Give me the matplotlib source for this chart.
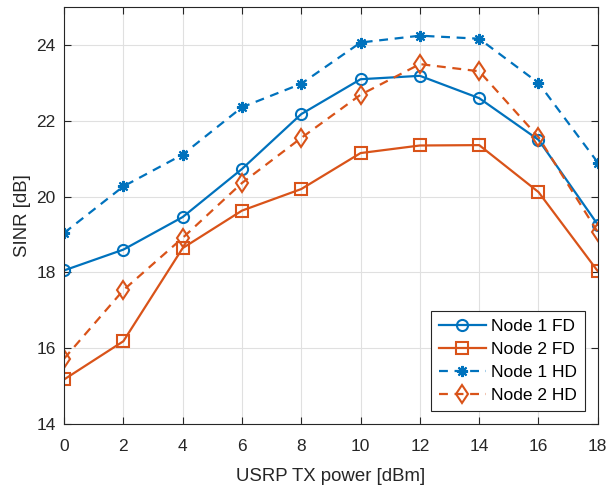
import matplotlib
matplotlib.use("Agg")
import matplotlib.pyplot as plt

plt.rcParams['font.family'] = ['Liberation Sans', 'DejaVu Sans']

tx_power = [0, 2, 4, 6, 8, 10, 12, 14, 16, 18]
node1_fd = [18.05, 18.60, 19.46, 20.73, 22.18, 23.10, 23.19, 22.60, 21.50, 19.26]
node2_fd = [15.17, 16.18, 18.64, 19.63, 20.20, 21.15, 21.35, 21.36, 20.12, 18.03]
node1_hd = [19.04, 20.27, 21.11, 22.36, 22.98, 24.07, 24.25, 24.17, 23.00, 20.90]
node2_hd = [15.72, 17.53, 18.91, 20.36, 21.55, 22.69, 23.50, 23.31, 21.57, 19.06]

blue = '#0072BD'
orange = '#D95319'

fig = plt.figure(figsize=(6.1, 4.86), dpi=100)
ax = fig.add_axes([0.105, 0.128, 0.875, 0.857])

ax.plot(tx_power, node1_fd, '-', color=blue, marker='o', mfc='none',
        markersize=8, mew=1.5, lw=1.6, label='Node 1 FD')
ax.plot(tx_power, node2_fd, '-', color=orange, marker='s', mfc='none',
        markersize=8, mew=1.5, lw=1.6, label='Node 2 FD')
ax.plot(tx_power, node1_hd, '--', color=blue, marker=(8, 2, 0),
        markersize=8, mew=1.5, lw=1.6, dashes=(4, 3), label='Node 1 HD')
ax.plot(tx_power, node2_hd, '--', color=orange, marker='d', mfc='none',
        markersize=9.5, mew=1.5, lw=1.6, dashes=(4, 3), label='Node 2 HD')

ax.set_xlim(0, 18)
ax.set_ylim(14, 25)
ax.set_xticks(range(0, 19, 2))
ax.set_yticks(range(14, 25, 2))
ax.grid(True, color='#e0e0e0', lw=0.8)
ax.set_axisbelow(True)
ax.tick_params(direction='in', length=5, labelsize=12.5, top=True, right=True,
               colors='#262626')
ax.tick_params(axis='x', pad=11)
ax.tick_params(axis='y', pad=6)
for s in ax.spines.values():
    s.set_color('#262626')
    s.set_linewidth(0.8)

ax.set_xlabel('USRP TX power [dBm]', fontsize=13.4, color='#262626', labelpad=10)
ax.set_ylabel('SINR [dB]', fontsize=13.4, color='#262626', labelpad=4)

leg = ax.legend(loc='lower right', fontsize=12.5, fancybox=False, framealpha=1,
                edgecolor='#262626', handlelength=2.7, borderpad=0.45,
                labelspacing=0.45, handletextpad=0.3, borderaxespad=0.75)
leg.get_frame().set_linewidth(0.8)

fig.savefig('out.png', dpi=100)
